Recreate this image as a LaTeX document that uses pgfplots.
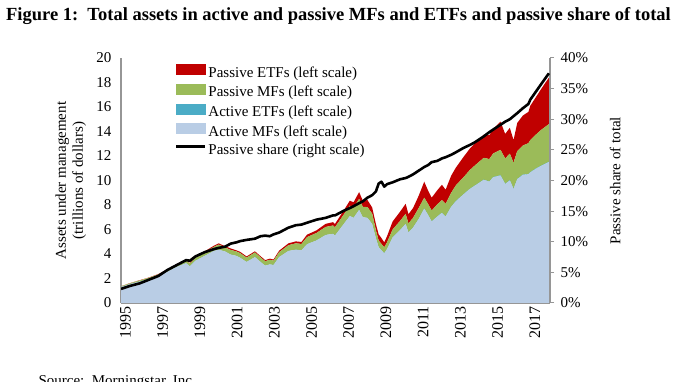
\documentclass[border=0pt]{standalone}
\usepackage{pgfplots}
\usepackage{pgfplotstable}
\pgfplotsset{compat=1.18}
\usepackage{fontspec}
\setmainfont{Liberation Serif}
\definecolor{pRed}{RGB}{192,0,0}
\definecolor{pGreen}{RGB}{155,187,89}
\definecolor{aTeal}{RGB}{75,172,198}
\definecolor{aBlue}{RGB}{185,205,229}
\definecolor{axgray}{RGB}{150,150,150}
\pgfplotstableread{
yr amf aetf pmf petf share
1995.00 1.30 0 0.06 0.01 2.3
1995.50 1.55 0 0.07 0.01 2.8
1996.00 1.75 0 0.09 0.02 3.2
1996.50 1.95 0 0.11 0.02 3.8
1997.00 2.20 0 0.13 0.03 4.4
1997.50 2.55 0 0.16 0.04 5.4
1998.00 2.95 0 0.19 0.04 6.2
1998.50 3.25 0 0.23 0.07 7.0
1998.70 3.00 0 0.21 0.05 6.9
1999.00 3.45 0 0.26 0.06 7.6
1999.50 3.85 0 0.29 0.08 8.3
2000.00 4.25 0 0.34 0.09 8.8
2000.25 4.35 0 0.42 0.10 9.0
2000.60 4.20 0 0.34 0.09 9.2
2000.90 3.95 0 0.38 0.12 9.7
2001.20 3.85 0 0.36 0.09 9.9
2001.40 3.70 0 0.38 0.10 10.1
2001.75 3.35 0 0.36 0.09 10.3
2002.20 3.75 0 0.38 0.09 10.5
2002.50 3.35 0 0.38 0.09 10.9
2002.75 3.05 0 0.36 0.09 11.0
2003.00 3.15 0 0.38 0.09 10.9
2003.20 3.10 0 0.36 0.09 11.2
2003.50 3.75 0 0.40 0.12 11.5
2004.00 4.25 0 0.47 0.15 12.3
2004.40 4.35 0 0.52 0.16 12.7
2004.70 4.30 0 0.52 0.16 12.8
2005.00 4.80 0 0.58 0.20 13.1
2005.50 5.10 0 0.61 0.21 13.6
2006.00 5.55 0 0.66 0.25 13.9
2006.40 5.65 0 0.68 0.27 14.3
2006.50 5.50 0 0.68 0.27 14.3
2007.00 6.50 0 0.78 0.34 15.1
2007.30 7.10 0 0.85 0.40 15.5
2007.50 6.95 0 0.85 0.42 15.8
2007.80 7.60 0 0.90 0.55 16.3
2008.00 7.00 0 0.85 0.50 16.6
2008.25 6.95 0 0.88 0.57 17.2
2008.50 6.45 0 0.85 0.50 17.6
2008.70 5.30 0 0.65 0.50 18.2
2008.85 4.55 0 0.55 0.50 19.5
2009.00 4.30 0.01 0.51 0.48 19.8
2009.15 4.05 0.01 0.49 0.40 19.0
2009.30 4.40 0.01 0.54 0.50 19.4
2009.60 5.35 0.01 0.64 0.65 19.7
2010.00 5.95 0.01 0.74 0.75 20.2
2010.30 6.45 0.01 0.82 0.82 20.4
2010.45 5.75 0.01 0.74 0.75 20.6
2010.70 6.15 0.01 0.79 0.80 21.0
2011.00 6.85 0.01 0.89 1.00 21.6
2011.30 7.70 0.01 0.89 1.30 22.2
2011.50 7.20 0.01 0.89 1.10 22.5
2011.70 6.65 0.01 0.89 1.05 23.0
2012.00 7.05 0.02 0.98 1.15 23.2
2012.25 7.35 0.02 1.03 1.25 23.6
2012.45 7.05 0.02 1.03 1.15 23.8
2012.75 7.85 0.02 1.13 1.40 24.2
2013.00 8.30 0.02 1.28 1.45 24.6
2013.40 8.85 0.02 1.38 1.65 25.3
2013.75 9.30 0.02 1.53 1.75 25.8
2014.00 9.55 0.02 1.63 1.80 26.2
2014.50 10.05 0.02 1.78 1.90 27.2
2014.80 9.90 0.02 1.83 1.95 27.9
2015.00 10.25 0.03 1.92 2.00 28.3
2015.40 10.40 0.03 2.07 2.30 29.1
2015.65 9.70 0.03 2.07 2.00 29.6
2015.90 10.00 0.03 2.17 2.10 30.0
2016.10 9.30 0.03 2.12 1.85 30.5
2016.30 10.10 0.03 2.27 2.30 31.0
2016.60 10.45 0.03 2.37 2.45 31.8
2016.90 10.50 0.03 2.52 2.55 32.5
2017.00 10.65 0.03 2.62 2.80 33.2
2017.30 10.95 0.03 2.77 3.05 34.5
2017.60 11.20 0.03 2.92 3.35 35.8
2018.00 11.50 0.03 3.07 3.80 37.5
}\datatable
\begin{document}
\begin{tikzpicture}
\useasboundingbox (0pt,0pt) rectangle (677pt,382pt);
\node[anchor=base, font=\fontsize{18.5}{21}\selectfont\bfseries] at (338.5pt,361pt) {Figure 1:\ \ Total assets in active and passive MFs and ETFs and passive share of total};
\node[anchor=base west, font=\fontsize{15}{17}\selectfont] at (35pt,-4pt) {Source:\ \ Morningstar, Inc.};
\begin{axis}[
  at={(121pt,79pt)}, anchor=south west,
  scale only axis, width=429pt, height=245pt,
  xmin=1995, xmax=2018.06, ymin=0, ymax=20,
  stack plots=y,
  axis x line*=bottom, axis y line*=left,
  axis line style={axgray, line width=1.2pt, -},
  xtick={1995,1997,...,2017},
  minor xtick={1996,1998,...,2018},
  xticklabel style={rotate=90, anchor=east, font=\fontsize{16}{18}\selectfont, yshift=-4.5pt},
  x tick label style={/pgf/number format/1000 sep={}},
  tick align=inside,
  major tick length=4pt, minor tick length=4pt,
  x tick style={axgray, line width=1pt},
  y tick style={draw=none},
  ytick={0,2,...,20},
  yticklabel style={font=\fontsize{15}{17}\selectfont, xshift=-6pt},
  /pgf/number format/assume math mode=true,
  ylabel={Assets under management\\(trillions of dollars)},
  ylabel style={align=center, font=\fontsize{15}{17}\selectfont, at={(axis description cs:-0.117,0.5)}, anchor=center},
  legend style={at={(axis description cs:0.118,0.983)}, anchor=north west, draw=none, fill=none,
    font=\fontsize{15}{17}\selectfont, row sep=3pt, nodes={inner sep=0pt, text height=11pt, text depth=4pt},
    /tikz/every odd column/.style={column sep=2pt}},
  legend cell align=left,
]
\addplot[fill=aBlue, draw=none, forget plot] table[x=yr, y=amf] {\datatable} \closedcycle;
\addplot[fill=aTeal, draw=none, forget plot] table[x=yr, y=aetf] {\datatable} \closedcycle;
\addplot[fill=pGreen, draw=none, forget plot] table[x=yr, y=pmf] {\datatable} \closedcycle;
\addplot[fill=pRed, draw=none, forget plot] table[x=yr, y=petf] {\datatable} \closedcycle;
\addlegendimage{legend image code/.code={\fill[pRed] (0pt,-1pt) rectangle (29pt,9pt);}}
\addlegendentry{Passive ETFs (left scale)}
\addlegendimage{legend image code/.code={\fill[pGreen] (0pt,-1pt) rectangle (29pt,9pt);}}
\addlegendentry{Passive MFs (left scale)}
\addlegendimage{legend image code/.code={\fill[aTeal] (0pt,-1pt) rectangle (29pt,9pt);}}
\addlegendentry{Active ETFs (left scale)}
\addlegendimage{legend image code/.code={\fill[aBlue] (0pt,-1pt) rectangle (29pt,9pt);}}
\addlegendentry{Active MFs (left scale)}
\addlegendimage{legend image code/.code={\draw[black, line width=2.6pt] (0pt,4pt) -- (29pt,4pt);}}
\addlegendentry{Passive share (right scale)}
\end{axis}
\begin{axis}[
  at={(121pt,79pt)}, anchor=south west,
  scale only axis, width=429pt, height=245pt,
  xmin=1995, xmax=2018.06, ymin=0, ymax=40,
  axis x line=none, axis y line*=right,
  axis line style={axgray, line width=1.2pt, -},
  ytick={0,5,...,40},
  yticklabel={\pgfmathprintnumber{\tick}\%},
  tick align=outside, major tick length=4pt,
  y tick style={axgray, line width=1pt},
  /pgf/number format/assume math mode=true,
  yticklabel style={font=\fontsize{15}{17}\selectfont, xshift=3pt},
  ylabel={Passive share of total},
  ylabel style={font=\fontsize{15}{17}\selectfont, at={(axis description cs:1.152,0.5)}, anchor=center},
]
\addplot[black, line width=2.6pt, line join=round] table[x=yr, y=share] {\datatable};
\end{axis}
\end{tikzpicture}
\end{document}
